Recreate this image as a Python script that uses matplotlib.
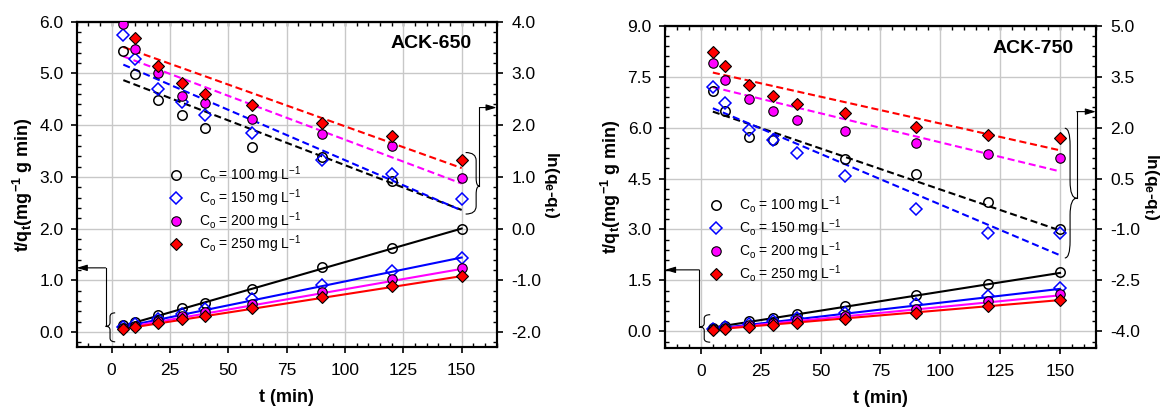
import numpy as np
import matplotlib.pyplot as plt
from matplotlib.path import Path
from matplotlib.patches import PathPatch
from matplotlib.ticker import MultipleLocator, FormatStrFormatter

plt.rcParams.update({
    "font.family": ["Liberation Sans", "DejaVu Sans"],
    "mathtext.default": "regular",
    "axes.unicode_minus": False,
    "font.size": 12.5,
})

# ---- data -------------------------------------------------------------
T = [5, 10, 20, 30, 40, 60, 90, 120, 150]
T_FIT = [5, 150]
CONC = ["100", "150", "200", "250"]
nan = np.nan

# ACK-650: t/qt (left axis)
TQ_650 = [
    [0.13, 0.20, 0.33, 0.46, 0.57, 0.84, 1.25, 1.62, 2.00],
    [0.10, 0.16, 0.25, 0.35, 0.44, 0.64, 0.90, 1.18, 1.44],
    [0.08, 0.12, 0.21, 0.30, 0.38, 0.55, 0.77, 1.02, 1.24],
    [0.06, 0.09, 0.17, 0.25, 0.31, 0.46, 0.68, 0.88, 1.09],
]
TQ_FIT_650 = [[0.12, 2.00], [0.10, 1.44], [0.08, 1.22], [0.06, 1.08]]
# ACK-650: ln(qe-qt) (right axis)
LN_650 = [
    [3.44, 2.99, 2.48, 2.19, 1.94, 1.57, 1.39, 0.92, nan],
    [3.75, 3.27, 2.69, 2.45, 2.19, 1.84, 1.33, 1.06, 0.57],
    [3.96, 3.48, 3.00, 2.56, 2.42, 2.12, 1.82, 1.60, 0.97],
    [nan, 3.69, 3.15, 2.82, 2.61, 2.39, 2.05, 1.79, 1.32],
]
LN_FIT_650 = [[2.87, 0.36], [3.17, 0.35], [3.33, 0.87], [3.51, 1.17]]

# ACK-750
TQ_750 = [
    [0.10, 0.17, 0.29, 0.39, 0.51, 0.75, 1.08, 1.40, 1.75],
    [0.07, 0.12, 0.22, 0.30, 0.38, 0.53, 0.80, 1.05, 1.27],
    [0.06, 0.10, 0.18, 0.25, 0.32, 0.45, 0.66, 0.88, 1.10],
    [0.05, 0.08, 0.14, 0.20, 0.26, 0.37, 0.55, 0.75, 0.93],
]
TQ_FIT_750 = [[0.11, 1.72], [0.07, 1.25], [0.06, 1.06], [0.05, 0.92]]
LN_750 = [
    [3.09, 2.49, 1.71, 1.64, nan, 1.07, 0.64, -0.18, -1.00],
    [3.19, 2.72, 1.93, 1.62, 1.25, 0.56, -0.40, -1.11, -1.10],
    [3.89, 3.40, 2.83, 2.50, 2.23, 1.91, 1.55, 1.22, 1.09],
    [4.22, 3.81, 3.26, 2.92, 2.70, 2.43, 2.01, 1.79, 1.70],
]
LN_FIT_750 = [[2.47, -1.03], [2.57, -1.76], [3.19, 0.71], [3.62, 1.33]]

COLORS = ["#000000", "#0000FF", "#FF00FF", "#FF0000"]
MARKERS = [
    dict(marker="o", ms=6.8, mfc="none", mec="#000000", mew=1.1),
    dict(marker="D", ms=5.8, mfc="none", mec="#0000FF", mew=1.1),
    dict(marker="o", ms=6.8, mfc="#FF00FF", mec="#000000", mew=0.8),
    dict(marker="D", ms=5.8, mfc="#FF0000", mec="#000000", mew=0.8),
]


def brace(ax, x_body, x_tip, x_hook, y0, y1, y_tip):
    r = (y1 - y0) * 0.13
    verts = [
        (x_hook, y1), (x_body, y1), (x_body, y1 - r),
        (x_body, y_tip + r),
        (x_body, y_tip), (x_tip, y_tip),
        (x_body, y_tip), (x_body, y_tip - r),
        (x_body, y0 + r),
        (x_body, y0), (x_hook, y0),
    ]
    codes = [Path.MOVETO, Path.CURVE3, Path.CURVE3, Path.LINETO,
             Path.CURVE3, Path.CURVE3, Path.CURVE3, Path.CURVE3,
             Path.LINETO, Path.CURVE3, Path.CURVE3]
    ax.add_patch(PathPatch(Path(verts, codes), fc="none", ec="black",
                           lw=0.8, clip_on=False))


def pointer(ax, x_tip, y_tip, y_top, x_end):
    ax.plot([x_tip, x_tip], [y_tip, y_top], color="black", lw=0.8, clip_on=False)
    ax.annotate("", xy=(x_end, y_top), xytext=(x_tip, y_top),
                arrowprops=dict(arrowstyle="-|>,head_length=0.5,head_width=0.15",
                                lw=0.8, color="black", shrinkA=0, shrinkB=0),
                annotation_clip=False)


def panel(ax, tq, tq_fit, ln, ln_fit, ylim, offset, major, tag, tag_xy,
          leg_xy, left_brace, right_brace):
    ax.set_xlim(-15, 165)
    ax.set_ylim(*ylim)
    ax2 = ax.twinx()
    ax2.set_ylim(ylim[0] + offset, ylim[1] + offset)

    ax.grid(True, color="#C8C8C8", lw=1.0)
    ax.set_axisbelow(True)

    handles = []
    for i in range(4):
        ax.plot(T_FIT, tq_fit[i], color=COLORS[i], lw=1.5, zorder=2)
        h, = ax.plot(T, tq[i], ls="none", zorder=3, **MARKERS[i])
        handles.append(h)
        ax2.plot(T_FIT, ln_fit[i], color=COLORS[i], lw=1.5, dashes=(3.4, 1.8), zorder=2)
        ax2.plot(T, ln[i], ls="none", zorder=3, **MARKERS[i])

    labels = [f"C$_o$ = {c} mg L$^{{-1}}$" for c in CONC]
    ax2.legend(handles, labels, loc="upper left", bbox_to_anchor=leg_xy,
               frameon=False, fontsize=10, handlelength=1.0, handletextpad=1.2,
               borderpad=0, borderaxespad=0, labelspacing=0.1)

    ax.text(*tag_xy, tag, transform=ax.transAxes, ha="right", va="center",
            fontsize=14, fontweight="bold")

    # ticks
    ax.xaxis.set_major_locator(MultipleLocator(25))
    ax.xaxis.set_minor_locator(MultipleLocator(5))
    ax.yaxis.set_major_locator(MultipleLocator(major))
    ax.yaxis.set_minor_locator(MultipleLocator(major / 5))
    ax2.yaxis.set_major_locator(MultipleLocator(major, offset=offset % major))
    ax2.yaxis.set_minor_locator(MultipleLocator(major / 5, offset=offset % (major / 5)))
    ax.yaxis.set_major_formatter(FormatStrFormatter("%.1f"))
    ax2.yaxis.set_major_formatter(FormatStrFormatter("%.1f"))
    ax.tick_params(axis="x", which="major", direction="out", length=4, width=1.2,
                   pad=7.5, labelsize=12.5, top=False)
    ax.tick_params(axis="x", which="minor", direction="in", length=3, width=1.0, top=False)
    ax.tick_params(axis="y", which="major", direction="out", length=4, width=1.2,
                   pad=5.5, labelsize=12.5)
    ax.tick_params(axis="y", which="minor", direction="in", length=3, width=1.0)
    ax2.tick_params(axis="y", which="major", direction="out", length=4, width=1.2,
                    pad=6.5, labelsize=12.5)
    ax2.tick_params(axis="y", which="minor", direction="in", length=3, width=1.0)
    top = ax.secondary_xaxis("top")
    top.xaxis.set_major_locator(MultipleLocator(5))
    top.tick_params(direction="in", length=3, width=1.0, labeltop=False)
    for a in (ax, ax2):
        for s in a.spines.values():
            s.set_linewidth(1.5)
    top.spines["top"].set_linewidth(1.5)

    ax.set_xlabel("t (min)", fontsize=13, fontweight="bold")
    ax.xaxis.set_label_coords(0.5, -0.128)
    ax.set_ylabel("t/q$_t$(mg$^{-1}$ g min)", fontsize=13, fontweight="bold")
    ax2.set_ylabel("ln(q$_e$-q$_t$)", fontsize=12.5, fontweight="bold",
                   rotation=270, va="bottom")

    # brackets with arrows pointing to the relevant axis
    xb, xt, xh, y0, y1, yt, ytop = left_brace
    brace(ax, xb, xt, xh, y0, y1, yt)
    pointer(ax, xt, yt, ytop, -15)
    xb, xt, xh, y0, y1, yt, ytop = right_brace
    brace(ax2, xb, xt, xh, y0, y1, yt)
    pointer(ax2, xt, yt, ytop, 165)
    return ax2


fig = plt.figure(figsize=(11.67, 4.08), dpi=100)
ax_l = fig.add_axes([0.0657, 0.1483, 0.3599, 0.7985])
ax_r = fig.add_axes([0.5698, 0.1463, 0.3693, 0.7907])

a2 = panel(ax_l, TQ_650, TQ_FIT_650, LN_650, LN_FIT_650, (-0.3, 6.0), -2.0, 1.0,
           "ACK-650", (0.94, 0.932), (0.219, 0.562),
           (-0.7, -2.6, 1.5, -0.19, 0.37, 0.11, 1.24),
           (156.2, 157.6, 151.7, 0.28, 1.47, 0.82, 2.34))
ax_l.yaxis.set_label_coords(-0.100, 0.5)
a2.yaxis.set_label_coords(1.108, 0.5)

b2 = panel(ax_r, TQ_750, TQ_FIT_750, LN_750, LN_FIT_750, (-0.5, 9.0), -4.0, 1.5,
           "ACK-750", (0.948, 0.930), (0.1015, 0.477),
           (1.4, -0.7, 3.9, -0.32, 0.49, 0.13, 1.81),
           (154.2, 157.0, 152.0, -1.84, 1.98, -0.08, 2.47))
ax_r.yaxis.set_label_coords(-0.097, 0.5)
b2.yaxis.set_label_coords(1.108, 0.5)

fig.savefig("out.png", dpi=100)
